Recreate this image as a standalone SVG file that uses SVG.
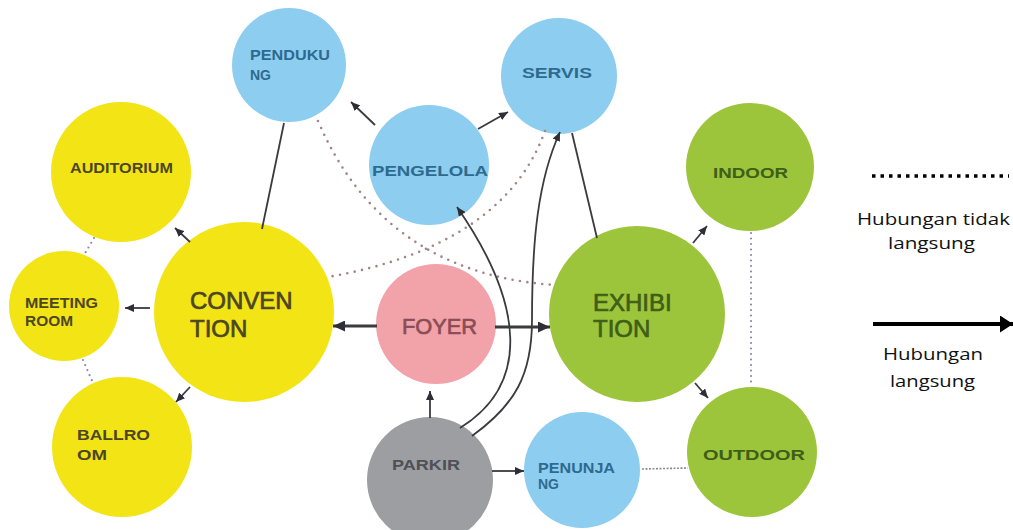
<svg xmlns="http://www.w3.org/2000/svg" width="1013" height="530" viewBox="0 0 1013 530">
<defs>
<style>
.y{fill:#F3E416}.b{fill:#8DCDF0}.g{fill:#9CC53C}.p{fill:#F2A3A9}.k{fill:#9D9EA2}
.s{font-family:"Liberation Sans",Arial,sans-serif;font-weight:bold;font-size:14px}
.L{font-family:"Liberation Sans",Arial,sans-serif;font-size:24px;stroke-width:0.7}
.ty{fill:#4C4722;stroke:#4C4722}.tb{fill:#2E6A8E;stroke:#2E6A8E}.tg{fill:#3F5E17;stroke:#3F5E17}.tp{fill:#8A4D55;stroke:#8A4D55}.tk{fill:#4E5057;stroke:#4E5057}
.s.ty,.s.tb,.s.tg,.s.tk{stroke:none}
.c{fill:none;stroke:#3A3A3F;stroke-width:1.8}
.t{fill:none;stroke:#3A3A3F;stroke-width:3}
.dr{fill:none;stroke:#A08686;stroke-width:2.6;stroke-linecap:round;stroke-dasharray:0 7.5}
.db{fill:none;stroke:#8A8AA6;stroke-width:2.2;stroke-linecap:round;stroke-dasharray:0 5.5}
.lg{font-family:"Open Sans","Noto Sans",sans-serif;font-size:17px;fill:#111}
</style>
<marker id="a" markerUnits="userSpaceOnUse" markerWidth="9" markerHeight="8" refX="9" refY="4" orient="auto"><path d="M0,0 L9,4 L0,8 z" fill="#2E2E36"/></marker>
<marker id="A" markerUnits="userSpaceOnUse" markerWidth="12" markerHeight="11" refX="12" refY="5.5" orient="auto"><path d="M0,0 L12,5.5 L0,11 z" fill="#2E2E36"/></marker>
<marker id="G" markerUnits="userSpaceOnUse" markerWidth="13" markerHeight="17" refX="13" refY="8.5" orient="auto"><path d="M0,0 L13,8.5 L0,17 z" fill="#000"/></marker>
</defs>

<g id="nodes">
<g id="pendukung"><circle class="b" cx="289" cy="65" r="57"/><text class="s tb" x="250" y="60" textLength="80" lengthAdjust="spacingAndGlyphs">PENDUKU</text><text class="s tb" x="250" y="80" textLength="21" lengthAdjust="spacingAndGlyphs">NG</text></g>
<g id="servis"><circle class="b" cx="559" cy="76" r="58"/><text class="s tb" x="522" y="78" textLength="70" lengthAdjust="spacingAndGlyphs">SERVIS</text></g>
<g id="pengelola"><circle class="b" cx="429" cy="165" r="60"/><text class="s tb" x="372" y="176" textLength="116" lengthAdjust="spacingAndGlyphs">PENGELOLA</text></g>
<g id="auditorium"><circle class="y" cx="121" cy="172" r="70"/><text class="s ty" x="70" y="173" textLength="103" lengthAdjust="spacingAndGlyphs">AUDITORIUM</text></g>
<g id="indoor"><circle class="g" cx="750" cy="167" r="64"/><text class="s tg" x="713" y="178" textLength="75" lengthAdjust="spacingAndGlyphs">INDOOR</text></g>
<g id="meeting"><circle class="y" cx="64" cy="306" r="55"/><text class="s ty" x="25" y="308" textLength="73" lengthAdjust="spacingAndGlyphs">MEETING</text><text class="s ty" x="25" y="326" textLength="48" lengthAdjust="spacingAndGlyphs">ROOM</text></g>
<g id="convention"><circle class="y" cx="244" cy="312" r="90"/><text class="L ty" x="190" y="309">CONVEN</text><text class="L ty" x="190" y="337">TION</text></g>
<g id="foyer"><circle class="p" cx="436" cy="324" r="60"/><text class="L tp" x="402" y="334" style="font-size:22px" textLength="75" lengthAdjust="spacingAndGlyphs">FOYER</text></g>
<g id="exhibition"><circle class="g" cx="637" cy="314" r="88"/><text class="L tg" x="593" y="311">EXHIBI</text><text class="L tg" x="593" y="337">TION</text></g>
<g id="ballroom"><circle class="y" cx="122" cy="447" r="70"/><text class="s ty" x="77" y="440" textLength="73" lengthAdjust="spacingAndGlyphs">BALLRO</text><text class="s ty" x="77" y="460" textLength="30" lengthAdjust="spacingAndGlyphs">OM</text></g>
<g id="parkir"><circle class="k" cx="430" cy="480" r="63"/><text class="s tk" x="392" y="470" textLength="68" lengthAdjust="spacingAndGlyphs">PARKIR</text></g>
<g id="penunjang"><circle class="b" cx="582" cy="470" r="58"/><text class="s tb" x="538" y="473" textLength="77" lengthAdjust="spacingAndGlyphs">PENUNJA</text><text class="s tb" x="538" y="489" textLength="21" lengthAdjust="spacingAndGlyphs">NG</text></g>
<g id="outdoor"><circle class="g" cx="752" cy="452" r="65"/><text class="s tg" x="703" y="460" textLength="102" lengthAdjust="spacingAndGlyphs">OUTDOOR</text></g>
</g>

<g id="connectors">
<path class="dr" d="M318,121 Q383.5,273.5 555,285"/>
<path class="dr" d="M545,131 Q503.5,246 328,277"/>
<line class="c" x1="284" y1="123" x2="262" y2="229"/>
<line class="c" x1="572" y1="133" x2="597" y2="238"/>
<line class="c" x1="375" y1="125" x2="351" y2="102" marker-end="url(#a)"/>
<line class="c" x1="478" y1="129" x2="508" y2="112" marker-end="url(#a)"/>
<path class="c" d="M460,428 C530,385 525,305 457,207" marker-end="url(#a)"/>
<path class="c" d="M472,436 C515,405 532,375 532,320 C532,240 538,180 560,132" marker-end="url(#a)"/>
<line class="t" x1="377" y1="326" x2="333" y2="326" marker-end="url(#A)"/>
<line class="t" x1="495" y1="327" x2="550" y2="327" marker-end="url(#A)"/>
<line class="c" x1="430" y1="418" x2="430" y2="391" marker-end="url(#a)"/>
<line class="c" x1="492" y1="471" x2="524" y2="471" marker-end="url(#a)"/>
<line class="c" x1="693" y1="243" x2="707" y2="226" marker-end="url(#a)"/>
<line class="c" x1="695" y1="383" x2="708" y2="398" marker-end="url(#a)"/>
<line class="c" x1="190" y1="242" x2="175" y2="228" marker-end="url(#a)"/>
<line class="c" x1="150" y1="308" x2="125" y2="308" marker-end="url(#a)"/>
<line class="c" x1="190" y1="387" x2="176" y2="402" marker-end="url(#a)"/>
<line class="db" x1="94" y1="238" x2="84" y2="255"/>
<line class="db" x1="83" y1="360" x2="93" y2="383"/>
<line class="db" x1="751" y1="233" x2="751" y2="387"/>
<line x1="642" y1="469" x2="688" y2="468" stroke="#8A8A96" stroke-width="1.6" stroke-dasharray="2 1.5"/>
</g>

<g id="legend">
<line x1="872" y1="176" x2="1009" y2="176" stroke="#000" stroke-width="3.5" stroke-dasharray="3.5 5"/>
<text class="lg" x="857" y="225" textLength="153" lengthAdjust="spacingAndGlyphs">Hubungan tidak</text>
<text class="lg" x="888" y="249" textLength="87" lengthAdjust="spacingAndGlyphs">langsung</text>
<line x1="873" y1="324" x2="1013" y2="324" stroke="#000" stroke-width="4" marker-end="url(#G)"/>
<text class="lg" x="883" y="360" textLength="100" lengthAdjust="spacingAndGlyphs">Hubungan</text>
<text class="lg" x="890" y="387" textLength="85" lengthAdjust="spacingAndGlyphs">langsung</text>
</g>
</svg>
